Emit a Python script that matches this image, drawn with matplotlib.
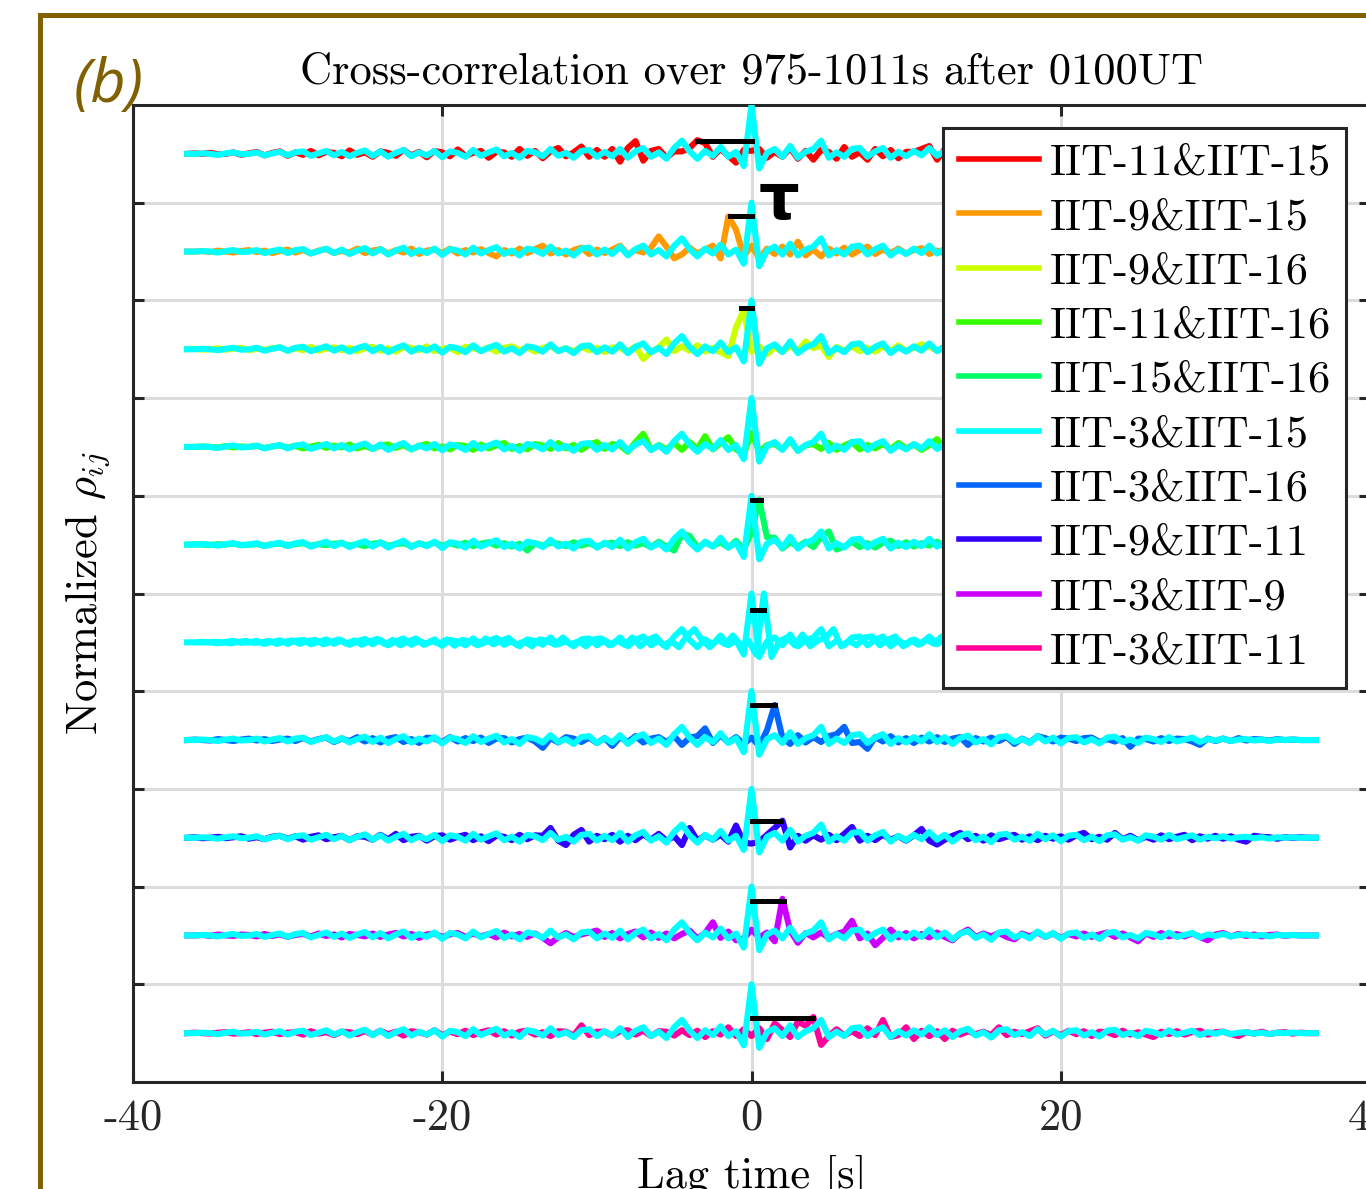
import numpy as np
import matplotlib
matplotlib.use('Agg')
import matplotlib.pyplot as plt
from matplotlib.lines import Line2D

plt.rcParams['font.family'] = ['cmr10', 'DejaVu Serif']
plt.rcParams['mathtext.fontset'] = 'cm'
plt.rcParams['axes.unicode_minus'] = False
plt.rcParams['axes.formatter.use_mathtext'] = True

# ---------------- data ----------------
lag_s = np.linspace(-36.5, 36.5, 147)   # lag grid, 0.5 s step

pair_labels = ['IIT-11&IIT-15', 'IIT-9&IIT-15', 'IIT-9&IIT-16', 'IIT-11&IIT-16',
               'IIT-15&IIT-16', 'IIT-3&IIT-15', 'IIT-3&IIT-16', 'IIT-9&IIT-11',
               'IIT-3&IIT-9', 'IIT-3&IIT-11']
pair_colors = ['#ff0000', '#ff9900', '#ccff00', '#33ff00', '#00ff66',
               '#00ffff', '#0066ff', '#3300ff', '#cc00ff', '#ff0099']

# lag of the correlation maximum (s) and normalized rho at that lag (x100)
tau_s = [-3.5, -1.4, -0.7, 0.0, 0.6, 0.8, 1.5, 1.9, 2.1, 4.0]
tau_rho = [27, 72, 84, 29, 92, 67, 72, 35, 70, 31]

# reference trace (IIT-3&IIT-15 aligned to zero lag), normalized rho x100
rho_ref = [0, 0, 1, 0, -2, 1, 3, -1, 0, 3, -3, 1, 4, -3,
           3, 5, -4, 1, 6, -3, 4, -5, 2, 7,
           -4, 5, -6, 2, 8, -5, 3, -3, 6, -7,
           5, 2, -6, 8, -4, 3, 9, -5, 2, -8,
           6, 3, -5, 10, -4, 2, -8, 6, 8, -6,
           4, -5, 10, -8, 5, 12, -6, 3, -10, 12,
           27, 5, -10, 6, -4, 14, -6, 4, -25,
           100,
           -30, 2, 10, -6, 16, -8, 4, 10, 27, -8, 3, -6, 10, 12, -6, 5, 12, -8, 4, -5, 6, -3, 12, -4,
           6, -8, 4, 9, -5, 2, -9, 6, 8, -4, 2, -6, 8, -3, 5, -7,
           4, 6, -5, 2, -7, 5, 7, -4, 1, -6,
           5, 2, -4, 6, -3, 1, 5, -4, 2, -1,
           3, -2, 1, 2, -1, 1, -2, 1, 0, 1, 0, 0, 0]

rho_11_15 = [0, 1, 0, 2, -1, 0, 3, -2, 1, 4, -3, 2, 5, -4,
             3, -2, 6, -3, 4, 2, -5, 7, -2, 3,
             -6, 5, 2, -4, 8, -3, 4, -7, 6, 3,
             -5, 9, -4, 2, 6, -8, 4, 3, -6, 10,
             -4, 6, -9, 5, 12, -5, 3, 15, -6, 8,
             -6, 10, -16, 12, 26, -14, 6, 10, -8, 5,
             5, 12, 28, 22, -6, 10, -4, -18, 8,
             6,
             10, -8, 4, -6, 12, -10, 6, -12, 8, 4, -10, 14, -6, 3, -12, 10, -5, 8, -9, 4, 4, 10, 16, -12,
             10, -8, 5, 12, -10, 4, -6, 14, -5, 3, -9, 8, -4, 6, -7, 5,
             8, -6, 3, -4, 10, -5, 4, -8, 6, 2,
             -5, 7, -3, 2, 6, -4, 3, -2, 5, -3,
             2, 4, -2, 1, -3, 2, 1, -1, 2, 0, 1, 0, 0]

rho_9_15 = [0, 0, 1, -1, 2, 0, -2, 1, 3, -1, 2, -3, 1, 4,
            -2, 3, -4, 2, 5, -3, 1, -2, 6, -3,
            2, 5, -4, 3, -2, 6, -5, 2, 4, -3,
            6, -4, 3, -2, 5, -3, -10, 3, -4, 6,
            -3, 5, 12, -4, 3, -6, 3, 8, -5, 4,
            -3, 4, 12, -6, 3, -2, 8, 31, 10, -14,
            -6, 8, -4, 4, 12, -14, 72, 45, -10,
            12,
            -14, 6, -5, 10, -6, 20, -8, 4, -10, 6, -4, 8, -6, 3, 10, -5, 4, -3, 6, -4, 3, 7, -5, 2,
            -4, 6, -3, 5, -2, 4, -6, 3, 5, -3, 2, -4, 6, -2, 3, -5,
            4, 2, -3, 5, -4, 2, 3, -2, 4, -3,
            2, -1, 4, -3, 2, 1, -2, 3, -1, 2,
            -2, 1, 2, -1, 1, 0, -1, 1, 0, 1, 0, 0, 0]

rho_9_16 = [0, 1, -1, 0, 2, -1, 1, 3, -2, 1, -1, 2, 4, -3,
            2, -2, 5, -3, 1, 4, -2, 3, -4, 2,
            5, -3, 2, -5, 4, 3, -2, 6, -4, 1,
            3, -6, 5, 2, -3, 4, -5, 3, 6, -2,
            4, -5, 3, 6, -3, 2, -4, 5, -2, 3,
            -6, 4, 2, -5, 6, -20, -6, 4, 20, -4,
            6, -3, 8, -5, 3, -6, -14, 45, 80,
            -5,
            6, -10, 4, -5, 6, -4, 16, 2, 8, -16, 5, -3, 6, -4, 3, -5, 6, -3, 8, -4, 3, 10, 5, -3,
            4, -3, 6, -2, 3, -5, 4, 2, -3, 5, -4, 3, -2, 4, -3, 2,
            5, -3, 2, -4, 3, 1, -2, 4, -3, 2,
            -2, 3, 1, -3, 2, -1, 3, -2, 1, 2,
            -1, 2, -2, 1, 0, 1, -1, 1, 0, 0, 1, 0, 0]

rho_11_16 = [0, 0, 1, 0, -1, 2, -1, 1, 0, 2, -2, 1, 3, -1,
             2, -3, 1, 4, -2, 3, -1, 5, -3, 2,
             -4, 3, 5, -2, 4, -5, 2, 6, -3, 1,
             -5, 4, 2, -6, 5, -3, 3, 8, -4, 2,
             -5, 6, 3, -4, 8, -3, 4, -6, 5, 10,
             -4, 6, 3, -10, 10, 27, -6, 4, -5, 8,
             -6, 10, -4, 22, -5, 8, 20, -5, -15,
             29,
             -10, 4, 6, -5, 14, -8, 3, 6, -4, 8, -6, 3, 10, -5, 4, -3, 6, -4, 8, -3, 5, -6, 4, 16,
             -5, 3, -4, 6, -2, 4, -5, 3, 7, -4, 2, -6, 5, -3, 4, -2,
             3, -4, 5, -2, 3, -3, 2, 4, -2, 1,
             -3, 2, 4, -2, 1, -1, 3, -2, 1, -1,
             2, -1, 1, 0, -1, 1, 0, 1, 0, 0, 0, 0, 0]

rho_15_16 = [0, 1, 0, -1, 1, 0, 2, -1, 0, 1, -2, 1, 2, -1,
             1, 3, -2, 1, -1, 2, 3, -2, 1, -3,
             2, 4, -2, 1, 3, -3, 2, -1, 4, -2,
             3, -2, 4, -3, 2, 5, -2, 3, -4, 2,
             -12, 3, -2, 4, 2, -3, 5, -2, 3, -4,
             2, 4, -3, 5, -2, 3, -5, 6, -4, -12,
             22, 18, -6, 4, -3, 5, -6, 8, -10,
             25,
             92, 15, 14, -8, 5, -4, 6, -5, 16, 27, -10, -4, 6, -5, 3, -6, 4, 8, -3, 5, -4, 3, -2, 6,
             -4, 3, 5, -3, 2, -4, 3, 6, -2, 4, -5, 3, -2, 4, -3, 2,
             -2, 3, -4, 2, 5, -3, 2, -2, 4, -1,
             2, -3, 1, 3, -2, 1, -1, 2, -1, 1,
             1, -1, 0, 1, 0, -1, 1, 0, 0, 1, 0, 0, 0]

rho_3_16 = [0, 1, 0, -1, 2, 0, -2, 1, 3, -1, 2, -2, 1, 3,
            -2, 4, -3, 2, 5, -4, 3, -2, 6, -3,
            4, -5, 3, 6, -4, 2, -6, 5, 3, -4,
            6, -3, 4, -2, 5, -6, 3, 4, -5, 2,
            5, -3, -16, 4, -5, 6, 3, -4, 5, -6,
            4, -12, 6, -4, 8, -5, 3, 6, -4, 8,
            -10, 5, 8, 24, -6, 10, -5, 6, -8,
            5,
            -12, 20, 72, 5, -8, 10, -5, 6, -4, 8, 12, 27, -6, -4, -18, 6, -3, 8, -5, 4, -6, 5, -3, 6,
            -4, 3, 6, -10, 4, -3, 5, -2, 6, -8, 3, -5, 8, 4, -3, 5,
            3, -2, 4, 5, -4, 2, -3, 4, -14, 3,
            2, -3, 4, -2, 3, 2, -3, -10, 3, -2,
            3, -2, 4, -1, 2, 1, -1, 2, 0, 1, 0, 0, 0]

rho_9_11 = [0, 1, -1, 0, 2, -1, 1, 3, -2, 1, -3, 2, 4, -2,
            3, -4, 2, 5, -3, 1, 4, -5, 3, 2,
            -4, 6, -3, 8, -5, 2, 4, -6, 3, 5,
            -4, 2, 6, -5, 3, -7, 4, 2, -5, 6,
            -3, 5, 4, 20, -6, -15, 6, 16, -8, 4,
            -3, 6, -8, 4, -5, 7, -4, 8, -6, 3,
            -15, 20, -6, 5, -4, 6, -8, 25, -10,
            -12,
            -8, 6, 20, 35, -20, 4, -6, 5, -4, 6, -5, 8, 22, -6, 4, -5, 6, -4, 3, -6, 5, 18, -6, -14,
            -4, 4, 10, -3, 4, -6, 5, -3, 2, 6, -4, 3, -5, 4, -2, 3,
            -4, 5, 10, -3, 2, -4, 10, -3, 4, -5,
            2, -4, 5, -3, 2, 6, -5, 3, -2, 4,
            -2, 3, -4, -8, 4, 2, 1, -2, 1, 0, 1, 0, 0]

rho_3_9 = [0, 0, 1, -1, 2, 0, -1, 2, 1, -2, 3, -1, 2, -3,
           1, 3, -2, 4, -1, 2, -4, 3, 1, -2,
           4, -3, 2, 5, -2, 3, -5, 2, 4, -3,
           2, 5, -3, 4, -2, 3, -4, 6, -2, 3,
           -3, 4, -5, -16, -4, 5, -3, 2, 6, 10,
           -3, 5, -6, 3, 8, -4, 6, -5, 4, -6,
           3, 10, -6, 5, 27, -5, 8, -10, -6,
           12,
           -4, 6, -12, 75, 10, -15, 5, -4, 6, -5, 3, 8, 30, -6, 4, -20, -5, 12, -4, 5, -6, 3, -4, 6,
           -3, -10, 4, 12, -3, 4, -2, 5, -3, -8, 4, -2, 6, -3, 4, -5,
           3, -2, 4, -3, 2, 6, -3, 4, -4, -12,
           4, -3, 5, -2, 3, -2, 4, -3, -10, 2,
           5, -2, 3, -1, 2, -2, 1, 2, -1, 1, 0, 0, 0]

rho_3_11 = [0, 1, 0, -1, 1, 2, -1, 0, 2, -2, 1, 3, -2, 1,
            2, -3, 4, -1, 2, -4, 3, 2, -2, 4,
            -3, 5, -2, 3, -5, 4, 2, -3, 6, -4,
            3, -2, 5, -4, 2, 6, -3, 4, -5, 3,
            5, -3, 2, -6, 4, 3, -5, 16, -4, 3,
            3, -5, 4, 6, -3, 5, -6, 4, 3, -5,
            6, -4, 5, -8, 4, -3, 12, -6, 8,
            -6,
            10, -12, 20, 6, -8, 24, 15, 33, -24, -6, 8, -5, 4, -6, 10, -4, 27, -8, -4, 12, -12, 5, -6, 4,
            -12, 5, -3, 4, -2, 3, -4, 12, -4, 3, -2, 4, 10, -5, 3, -4,
            5, -2, 4, -6, 3, 2, -4, 5, -3, 2,
            -3, -8, 3, -2, 4, -3, 2, 5, -3, 2,
            3, -2, -6, 2, -1, 3, -2, 1, 2, -1, 1, 0, 0]

# per-row pair traces (row 6 is the IIT-3&IIT-15 trace itself, at its own lag)
pair_rho = [rho_11_15, rho_9_15, rho_9_16, rho_11_16, rho_15_16,
            rho_ref, rho_3_16, rho_9_11, rho_3_9, rho_3_11]

xtick_vals = [-40, -20, 0, 20, 40]
xtick_labels = ['-40', '-20', '0', '20', '40']
title_text = 'Cross-correlation over 975-1011s after 0100UT'


def fit(v, n=len(lag_s)):
    v = list(v)[:n]
    return np.array(v + [0] * (n - len(v)), dtype=float)


# ---------------- figure ----------------
W, H = 1366, 1189
fig = plt.figure(figsize=(W / 100, H / 100), dpi=100)
ax = fig.add_axes([133 / W, (H - 1082) / H, (1370 - 133) / W, (1082 - 105) / H])

ink = '#262626'
lw_trace = 4.4
ref = fit(rho_ref)
lag_max = lag_s.max()
for k, (lab, col, vals) in enumerate(zip(pair_labels, pair_colors, pair_rho)):
    base = 9.5 - k
    v = fit(vals)
    if vals is rho_ref:
        x = lag_s + tau_s[k]
        keep = x <= lag_max + 0.3
        x, v = x[keep], v[keep]
    else:
        x = lag_s
    ax.plot(x, base + v / 100 * 0.5, color=col, lw=lw_trace, zorder=3,
            solid_joinstyle='round')
    ax.plot(lag_s, base + ref / 100 * 0.5, color=pair_colors[5], lw=lw_trace, zorder=4,
            solid_joinstyle='round')
    yb = base + tau_rho[k] / 100 * 0.5
    ax.plot([tau_s[k], 0], [yb, yb], color='black', lw=3.6,
            solid_capstyle='projecting', zorder=5)

ax.set_xlim(-40, 40)
ax.set_ylim(0, 10)
ax.set_xticks(xtick_vals)
ax.set_xticklabels(xtick_labels)
ax.set_yticks(np.arange(1, 10))
ax.tick_params(axis='both', direction='in', length=8, width=2.2, colors=ink,
               top=True, right=True, labelsize=32, pad=12)
ax.tick_params(axis='y', labelleft=False)
ax.grid(True, color='#dcdcdc', lw=2.2)
ax.set_axisbelow(True)
for s in ax.spines.values():
    s.set_linewidth(2.2)
    s.set_color(ink)

ax.text(1.75, 9.02, 'τ', fontsize=46, fontweight='bold', family='DejaVu Sans',
        ha='center', va='center', zorder=6)

handles = [Line2D([], [], color=c, lw=4.0) for c in pair_colors]
leg = ax.legend(handles, pair_labels, loc='upper left',
                bbox_to_anchor=(943 / W, 1 - 128 / H), bbox_transform=fig.transFigure,
                fontsize=32, frameon=True, fancybox=False, edgecolor=ink, framealpha=1,
                borderpad=0.35, labelspacing=0.32, handlelength=1.8, handletextpad=0.25,
                borderaxespad=0)
leg.get_frame().set_linewidth(2.2)
leg.set_zorder(10)

fig.text(751.5 / W, 1 - 84 / H, title_text, ha='center', va='baseline', fontsize=32)
fig.text(88 / W, 1 - 593 / H, r'Normalized $\rho_{ij}$', rotation=90,
         ha='center', va='center', fontsize=32)
fig.text(751.5 / W, 1 - 1188 / H, 'Lag time [s]', ha='center', va='baseline', fontsize=32)

fig.text(74 / W, 1 - 102 / H, '(b)', ha='left', va='baseline', fontsize=44,
         style='italic', family=['Open Sans', 'DejaVu Sans'], color='#806000')

frame_col = '#806000'
fig.add_artist(Line2D([40 / W, 40 / W], [-0.01, 1 - 15 / H], transform=fig.transFigure,
                      color=frame_col, lw=3.6, solid_capstyle='projecting'))
fig.add_artist(Line2D([40 / W, 1.01], [1 - 15 / H, 1 - 15 / H], transform=fig.transFigure,
                      color=frame_col, lw=3.6, solid_capstyle='projecting'))

fig.savefig('out.png', dpi=100)
